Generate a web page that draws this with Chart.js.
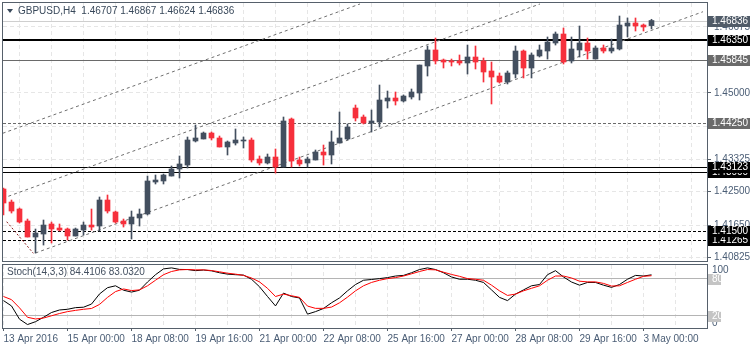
<!DOCTYPE html>
<html>
<head>
<meta charset="utf-8">
<script src="https://cdn.jsdelivr.net/npm/chart.js@4.4.0/dist/chart.umd.min.js"></script>
<style>
  html, body { margin: 0; padding: 0; background: #fff; }
  #wrap { position: relative; width: 750px; height: 350px; }
  .pane { position: absolute; left: 0; }
  #pricePane { top: 0; }
  #stochPane { top: 262px; }
</style>
</head>
<body>
<div id="wrap">
  <div class="pane" id="pricePane"><canvas id="priceChart" width="750" height="262"></canvas></div>
  <div class="pane" id="stochPane"><canvas id="stochChart" width="750" height="88"></canvas></div>
</div>
<script>
"use strict";

// GBPUSD H4 candles, oldest first
const opens = [
  1.42565, 1.42235, 1.42058, 1.41754, 1.41348, 1.41424, 1.41678, 1.41576, 1.41551, 1.41373,
  1.41525, 1.41652, 1.41627, 1.42286, 1.41982, 1.41754, 1.41678, 1.41830, 1.41931, 1.42742,
  1.42768, 1.42894, 1.43072, 1.43173, 1.43782, 1.43833, 1.43984, 1.43858, 1.43630, 1.43731,
  1.43782, 1.43807, 1.43325, 1.43224, 1.43376, 1.43123, 1.44339, 1.43300, 1.43224, 1.43300,
  1.43503, 1.43427, 1.43731, 1.43833, 1.44618, 1.44390, 1.44238, 1.44263, 1.44796, 1.44872,
  1.44796, 1.44897, 1.44998, 1.45683, 1.46089, 1.45835, 1.45810, 1.45810, 1.45759, 1.45911,
  1.45810, 1.45556, 1.45429, 1.45277, 1.45480, 1.46063, 1.45632, 1.45937, 1.46063, 1.46266,
  1.46494, 1.45810, 1.46089, 1.46266, 1.45860, 1.46139, 1.46063, 1.46114, 1.46697, 1.46773,
  1.46722, 1.46707
];
const highs = [
  1.42590, 1.42286, 1.42083, 1.41804, 1.41551, 1.41779, 1.41728, 1.41678, 1.41576, 1.41576,
  1.41728, 1.42058, 1.42362, 1.42413, 1.42007, 1.41804, 1.42007, 1.42058, 1.42894, 1.42920,
  1.42945, 1.43148, 1.43402, 1.43883, 1.44187, 1.44010, 1.44010, 1.43908, 1.43782, 1.44086,
  1.43883, 1.43858, 1.43402, 1.43452, 1.43579, 1.44390, 1.44365, 1.43376, 1.43376, 1.43554,
  1.43680, 1.44035, 1.44517, 1.44213, 1.44694, 1.44441, 1.44568, 1.45201, 1.45049, 1.45024,
  1.44948, 1.45100, 1.45708, 1.46190, 1.46393, 1.45860, 1.45860, 1.45962, 1.46215, 1.46190,
  1.45886, 1.45784, 1.45506, 1.45556, 1.46190, 1.46089, 1.46013, 1.46215, 1.46418, 1.46545,
  1.46646, 1.46418, 1.46697, 1.46393, 1.46190, 1.46215, 1.46367, 1.46950, 1.46900, 1.46900,
  1.46748, 1.46867
];
const lows = [
  1.41906, 1.41956, 1.41703, 1.41348, 1.40943, 1.41145, 1.41196, 1.41500, 1.41272, 1.41373,
  1.41398, 1.41525, 1.41500, 1.41956, 1.41703, 1.41601, 1.41297, 1.41627, 1.41906, 1.42692,
  1.42692, 1.42894, 1.42844, 1.43097, 1.43757, 1.43833, 1.43807, 1.43630, 1.43427, 1.43680,
  1.43604, 1.43249, 1.43173, 1.43199, 1.42970, 1.43123, 1.43123, 1.43148, 1.43123, 1.43300,
  1.43173, 1.43199, 1.43731, 1.43807, 1.44289, 1.44213, 1.44010, 1.44137, 1.44618, 1.44694,
  1.44770, 1.44846, 1.44821, 1.45429, 1.45734, 1.45632, 1.45683, 1.45708, 1.45480, 1.45607,
  1.45277, 1.44720, 1.45252, 1.45227, 1.45379, 1.45379, 1.45379, 1.45911, 1.45860, 1.46215,
  1.45734, 1.45759, 1.45911, 1.45860, 1.45860, 1.46013, 1.46013, 1.46089, 1.46418, 1.46570,
  1.46570, 1.46624
];
const closes = [
  1.42210, 1.42007, 1.41728, 1.41348, 1.41449, 1.41652, 1.41551, 1.41525, 1.41373, 1.41551,
  1.41652, 1.41601, 1.42286, 1.42007, 1.41728, 1.41678, 1.41855, 1.41931, 1.42768, 1.42793,
  1.42920, 1.43072, 1.43199, 1.43807, 1.43858, 1.43984, 1.43858, 1.43630, 1.43757, 1.43807,
  1.43807, 1.43300, 1.43224, 1.43376, 1.43123, 1.44289, 1.43275, 1.43199, 1.43325, 1.43503,
  1.43427, 1.43757, 1.43858, 1.44137, 1.44365, 1.44238, 1.44289, 1.44821, 1.44872, 1.44796,
  1.44922, 1.45024, 1.45708, 1.46089, 1.45810, 1.45784, 1.45784, 1.45759, 1.45911, 1.45784,
  1.45531, 1.45404, 1.45277, 1.45506, 1.46063, 1.45632, 1.45962, 1.46089, 1.46291, 1.46494,
  1.45784, 1.46114, 1.46266, 1.46063, 1.46139, 1.46063, 1.46139, 1.46722, 1.46773, 1.46697,
  1.46672, 1.46836
];

// Stochastic(14,3,3): %K main line and %D signal line
const stochK = [
  43.5, 35, 14, 5.5, 10, 17, 24.6, 28.6, 29.7, 32.3, 33, 38, 54, 64, 67, 60, 57, 60, 73, 84.6,
  93.8, 95.4, 93, 92.8, 91, 92, 90.7, 87.7, 85.5, 84.6, 84, 77.4, 65.5, 50, 35, 55.4, 50, 47.7, 22, 26,
  31, 40, 47.7, 59, 69, 75.8, 77, 78.4, 80, 82.5, 83.5, 87.7, 92.8, 95.4, 92.8, 87.7, 81, 77.4, 77.4, 75.8,
  72.3, 60.5, 48.6, 43.5, 53.8, 60.5, 67, 69, 84.6, 91, 81, 73, 68, 72.3, 72.3, 68, 64.5, 69, 77.4, 83.5,
  82.5, 84.4106
];
const stochD = [
  50, 45, 32, 17, 14.3, 15.8, 19.4, 23, 26, 28, 29.7, 31, 37.4, 48.6, 57.8, 62, 59.4, 60.5, 67, 75.8,
  84.6, 89.7, 92.3, 92.8, 92.3, 92.3, 91.2, 89.2, 87, 85.5, 83.5, 79.4, 73.2, 63, 50, 53.8, 51.2, 48.6, 34.8, 31.2,
  31.2, 33.2, 40, 49, 59, 67, 72.3, 75.8, 78.4, 80, 82.5, 86, 89.7, 92.8, 92.3, 88.6, 85, 82, 78.4, 77.4,
  75.8, 68, 59, 51.7, 53.8, 59, 63, 67, 75.8, 82.5, 82.5, 79.4, 74.3, 73.2, 73.2, 70.8, 66.6, 67, 72.3, 77.4,
  82, 83.032
];
const stochLevels = [80, 20];

const dateLabels = [
  '13 Apr 2016', '15 Apr 00:00', '18 Apr 08:00', '19 Apr 16:00', '21 Apr 00:00', '22 Apr 08:00',
  '25 Apr 16:00', '27 Apr 00:00', '28 Apr 08:00', '29 Apr 16:00', '3 May 00:00'
];
const priceTicks = [1.40825, 1.41650, 1.42500, 1.43325, 1.44150, 1.45000, 1.45825, 1.46675];

// horizontal support / resistance objects
const levelPrices = [1.46350, 1.45845, 1.44250, 1.43123, 1.43000, 1.41500, 1.41265];
const levelKinds = ['major', 'grey', 'greyDash', 'thin', 'thin', 'dash', 'dash'];

// trend channel and swing line, as [bar index, price] end points
const channelTop = [[-0.1, 1.43977], [44.56, 1.47255]];
const channelMid = [[-0.1, 1.42329], [67.06, 1.47255]];
const channelLow = [[4, 1.40943], [87.44, 1.47059]];
const swingLine = [[0.4, 1.41736], [3.73, 1.40935]];

const FONT = '"Liberation Sans", Arial, sans-serif';
const BULL = '#434f5f', BEAR = '#f6303c';
const FRAME = '#56606b', GRID = '#e6e6e6', AXIS_TEXT = '#4a5d75';
const X_MIN = -0.0625, X_MAX = 87.9375;

const levelStyle = {
  major:    { color: '#000000', width: 2, dash: [],     tag: '#000000' },
  grey:     { color: '#6a6a6a', width: 1, dash: [],     tag: '#6a6a6a' },
  greyDash: { color: '#6a6a6a', width: 1, dash: [3, 2], tag: '#6a6a6a' },
  thin:     { color: '#000000', width: 1, dash: [],     tag: '#000000' },
  dash:     { color: '#000000', width: 1, dash: [3, 2], tag: '#000000' }
};

const candleColors = closes.map((c, i) => c >= opens[i] ? BULL : BEAR);
const gridSteps = [];
for (let i = 0; i <= 84; i += 4) gridSteps.push(i);
const toPts = pts => pts.map(([x, y]) => ({ x, y }));
const lastPrice = closes[closes.length - 1];

// fixed axis boxes, no extra room for overhanging labels
const fixWidth = w => s => { s.width = w; s.paddingTop = 0; s.paddingBottom = 0; };
const fixHeight = h => s => { s.height = h; s.paddingLeft = 0; s.paddingRight = 0; };

function drawFrame(chart) {
    const { ctx, chartArea: a } = chart;
    ctx.save();
    ctx.strokeStyle = FRAME;
    ctx.lineWidth = 1;
    ctx.setLineDash([]);
    ctx.strokeRect(a.left - 0.5, a.top - 0.5, a.right - a.left + 1, a.bottom - a.top + 1);
    ctx.restore();
}

function hLine(ctx, a, py, color, width, dash) {
    const y = width % 2 ? Math.round(py) + 0.5 : Math.round(py);
    ctx.strokeStyle = color;
    ctx.lineWidth = width;
    ctx.setLineDash(dash);
    ctx.beginPath();
    ctx.moveTo(a.left, y);
    ctx.lineTo(a.right, y);
    ctx.stroke();
}

function drawTag(ctx, a, py, text, bg, fg, w) {
    const y = Math.round(py);
    ctx.fillStyle = bg;
    ctx.fillRect(a.right + 1, y - 5, w, 11);
    ctx.fillStyle = fg;
    ctx.fillText(text, a.right + 5, y + 0.5);
}

const priceOverlay = {
    id: 'priceOverlay',
    beforeDatasetsDraw(chart) {
        const { ctx, chartArea: a, scales: { y } } = chart;
        ctx.save();
        // bid line
        hLine(ctx, a, y.getPixelForValue(lastPrice), '#cfcfcf', 1, []);
        levelPrices.forEach((v, i) => {
            const s = levelStyle[levelKinds[i]];
            hLine(ctx, a, y.getPixelForValue(v), s.color, s.width, s.dash);
        });
        ctx.restore();
    },
    afterDraw(chart) {
        const { ctx, chartArea: a, scales: { y } } = chart;
        drawFrame(chart);
        ctx.save();
        ctx.font = `10px ${FONT}`;
        ctx.textBaseline = 'middle';
        ctx.textAlign = 'left';

        // symbol header
        ctx.fillStyle = '#38485a';
        ctx.beginPath();
        ctx.moveTo(a.left + 4, a.top + 6);
        ctx.lineTo(a.left + 10, a.top + 6);
        ctx.lineTo(a.left + 7, a.top + 10);
        ctx.closePath();
        ctx.fill();
        ctx.fillText(`GBPUSD,H4  ${opens.at(-1).toFixed(5)} ${highs.at(-1).toFixed(5)} ${lows.at(-1).toFixed(5)} ${lastPrice.toFixed(5)}`, a.left + 15, a.top + 8.5);

        // price tags on the right axis, lowest first so upper ones sit on top
        for (let i = levelPrices.length - 1; i >= 0; i--) {
            const s = levelStyle[levelKinds[i]];
            drawTag(ctx, a, y.getPixelForValue(levelPrices[i]), levelPrices[i].toFixed(5), s.tag, '#ffffff', 42);
        }
        drawTag(ctx, a, y.getPixelForValue(lastPrice), lastPrice.toFixed(5), '#505b68', '#ffffff', 42);
        ctx.restore();
    }
};

new Chart(document.getElementById('priceChart'), {
    type: 'bar',
    data: {
        datasets: [
            {
                data: opens.map((o, i) => ({ x: i, y: [o, closes[i]] })),
                backgroundColor: candleColors,
                barThickness: 5,
                minBarLength: 1,
                grouped: false,
                order: 0
            },
            {
                data: highs.map((h, i) => ({ x: i, y: [lows[i], h] })),
                backgroundColor: candleColors,
                barThickness: 1,
                grouped: false,
                order: 1
            },
            ...[channelTop, channelMid, channelLow].map(pts => ({
                type: 'line',
                data: toPts(pts),
                borderColor: '#6f6f6f',
                borderWidth: 1,
                borderDash: [3, 3],
                pointRadius: 0,
                order: 2
            })),
            {
                type: 'line',
                data: toPts(swingLine),
                borderColor: '#8b1a1a',
                borderWidth: 1,
                borderDash: [2, 2],
                pointRadius: 0,
                order: 2
            }
        ]
    },
    options: {
        responsive: false,
        animation: false,
        events: [],
        layout: { padding: { left: 3, top: 3, right: 0, bottom: 1 } },
        plugins: { legend: { display: false }, tooltip: { enabled: false } },
        scales: {
            x: {
                type: 'linear', min: X_MIN, max: X_MAX, offset: false,
                afterBuildTicks: s => { s.ticks = gridSteps.map(v => ({ value: v })); },
                afterFit: fixHeight(0),
                ticks: { display: false },
                grid: { color: GRID, drawTicks: false },
                border: { display: false, dash: [4, 3] }
            },
            y: {
                position: 'right', min: 1.4074, max: 1.4728,
                afterBuildTicks: s => { s.ticks = priceTicks.map(v => ({ value: v })); },
                afterFit: fixWidth(43),
                ticks: {
                    autoSkip: false, padding: 3, color: AXIS_TEXT,
                    font: { family: FONT, size: 10 },
                    callback: v => v.toFixed(5)
                },
                grid: { color: GRID, tickLength: 4, tickColor: FRAME, tickBorderDash: [] },
                border: { display: false, dash: [4, 3] }
            }
        }
    },
    plugins: [priceOverlay]
});

const stochOverlay = {
    id: 'stochOverlay',
    beforeDatasetsDraw(chart) {
        const { ctx, chartArea: a, scales: { y } } = chart;
        ctx.save();
        stochLevels.forEach(v => hLine(ctx, a, y.getPixelForValue(v), '#b4b4b4', 1, []));
        ctx.restore();
    },
    afterDraw(chart) {
        const { ctx, chartArea: a, scales: { y } } = chart;
        drawFrame(chart);
        ctx.save();
        ctx.font = `10px ${FONT}`;
        ctx.textBaseline = 'middle';
        ctx.textAlign = 'left';
        ctx.fillStyle = '#445060';
        ctx.fillText(`Stoch(14,3,3) ${stochK.at(-1).toFixed(4)} ${stochD.at(-1).toFixed(4)}`, a.left + 4, a.top + 7);

        ctx.fillStyle = AXIS_TEXT;
        ctx.fillText('100', a.right + 5, y.getPixelForValue(100) + 5.5);
        ctx.fillText('0', a.right + 5, y.getPixelForValue(0) - 5);
        stochLevels.forEach(v => drawTag(ctx, a, y.getPixelForValue(v) + 1, String(v), '#c4c4c4', '#ffffff', 13));
        ctx.restore();
    }
};

new Chart(document.getElementById('stochChart'), {
    type: 'line',
    data: {
        datasets: [
            { data: stochD.map((v, i) => ({ x: i, y: v })), borderColor: '#ff0000', borderWidth: 1, pointRadius: 0, order: 0 },
            { data: stochK.map((v, i) => ({ x: i, y: v })), borderColor: '#000000', borderWidth: 1, pointRadius: 0, order: 1 }
        ]
    },
    options: {
        responsive: false,
        animation: false,
        events: [],
        layout: { padding: { left: 3, top: 3, right: 0, bottom: 0 } },
        plugins: { legend: { display: false }, tooltip: { enabled: false } },
        scales: {
            x: {
                type: 'linear', min: X_MIN, max: X_MAX, offset: false,
                afterBuildTicks: s => { s.ticks = gridSteps.map(v => ({ value: v })); },
                afterFit: fixHeight(22),
                ticks: {
                    autoSkip: false, maxRotation: 0, align: 'start', padding: 2,
                    color: AXIS_TEXT, font: { family: FONT, size: 10 },
                    callback: v => v % 8 === 0 ? dateLabels[v / 8] || '' : ''
                },
                grid: {
                    color: GRID, tickLength: 3, tickBorderDash: [],
                    tickColor: c => (c.tick && c.tick.value % 8 === 0) ? FRAME : 'rgba(0,0,0,0)'
                },
                border: { display: false, dash: [4, 3] }
            },
            y: {
                position: 'right', min: 0, max: 100,
                afterFit: fixWidth(43),
                ticks: { display: false },
                grid: { display: false },
                border: { display: false }
            }
        }
    },
    plugins: [stochOverlay]
});
</script>
</body>
</html>
